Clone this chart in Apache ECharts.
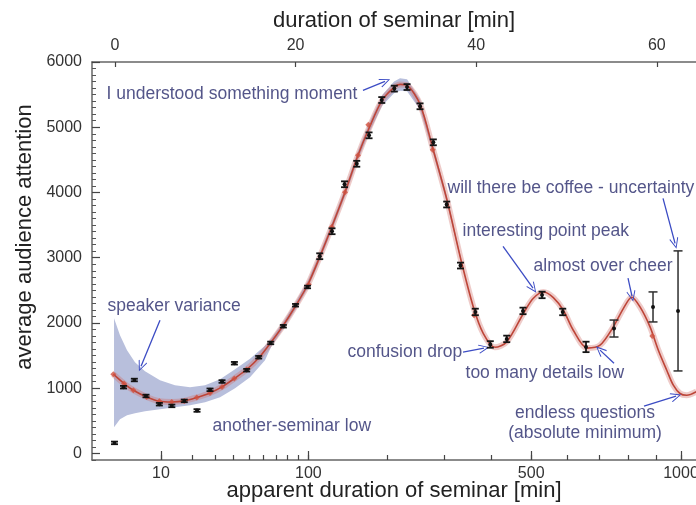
<!DOCTYPE html>
<html>
<head>
<meta charset="utf-8">
<script src="https://cdn.jsdelivr.net/npm/echarts@6/dist/echarts.min.js"></script>
<style>
  html, body { margin: 0; padding: 0; background: #fff; }
  #chart { width: 696px; height: 505px; }
</style>
</head>
<body>
<div id="chart"></div>
<script>
// real seminar time (top axis, linear, minutes)
const topTicks = [0, 20, 40, 60];

// apparent duration (bottom axis) and where each tick sits in real minutes
const apparentTicks = [10, 20, 30, 40, 50, 60, 70, 80, 90, 100, 200, 300, 400, 500, 600, 700, 800, 900, 1000];
const apparentTickPos = [5.09, 8.55, 11.05, 13.08, 14.89, 16.45, 17.83, 19.11, 20.33, 21.41, 30.12, 36.47, 41.69, 46.09, 50.06, 53.63, 56.88, 59.91, 62.68];
const apparentLabels = [10, 100, 500, 1000];

const yMajor = [0, 1000, 2000, 3000, 4000, 5000, 6000];

// measured attention with error bars
const pointT = [-0.06, 0.94, 2.14, 3.43, 4.91, 6.29, 7.67, 9.08, 10.52, 11.85, 13.22, 14.58, 15.91, 17.24, 18.64, 19.99, 21.32, 22.67, 24.03, 25.42, 26.77, 28.13, 29.54, 30.93, 32.34, 33.78, 35.25, 36.73, 38.26, 39.9, 41.56, 43.38, 45.18, 47.29, 49.58, 52.16, 55.26, 59.58, 62.35];
const pointV = [162, 1016, 1126, 881, 755, 729, 806, 659, 976, 1103, 1383, 1276, 1475, 1694, 1950, 2272, 2552, 3023, 3406, 4126, 4440, 4876, 5417, 5592, 5616, 5321, 4769, 3816, 2880, 2169, 1671, 1756, 2185, 2430, 2169, 1633, 1915, 2246, 2185];
const pointErr = [20, 20, 20, 20, 20, 20, 20, 20, 20, 20, 20, 20, 20, 20, 20, 20, 20, 45, 45, 45, 45, 45, 45, 45, 45, 45, 45, 45, 45, 50, 50, 50, 50, 50, 50, 80, 130, 230, 920];

// fitted curve
const fitT = [-0.19, 1.0, 2.03, 3.51, 4.91, 6.28, 7.67, 9.05, 10.52, 11.85, 13.21, 14.58, 15.98, 17.28, 18.64, 20.04, 21.37, 22.7, 24.03, 25.47, 26.91, 28.13, 29.57, 30.9, 31.56, 32.34, 33.78, 35.22, 36.77, 38.32, 39.68, 40.79, 42.08, 43.38, 45.22, 46.3, 47.43, 48.54, 49.65, 50.75, 52.3, 53.71, 55.18, 56.29, 57.22, 58.14, 59.25, 60.17, 61.1, 61.83, 62.57, 63.31, 64.4];
const fitV = [1215, 1072, 970, 867, 801, 790, 806, 858, 928, 1020, 1149, 1287, 1475, 1705, 1966, 2272, 2594, 3023, 3483, 4003, 4570, 4984, 5412, 5611, 5657, 5642, 5350, 4662, 3881, 2962, 2246, 1838, 1628, 1710, 2145, 2375, 2476, 2390, 2195, 1889, 1615, 1659, 1940, 2221, 2395, 2246, 1940, 1583, 1276, 1046, 919, 893, 950];

// red markers visible on the fit
const fitMarkT = [-0.19, 1.0, 2.03, 3.51, 4.91, 6.28, 7.67, 9.05, 10.52, 11.85, 13.21, 14.58, 21.46, 24.0, 25.47, 26.91, 28.05, 35.18, 39.76, 59.5];
const fitMarkV = [1215, 1072, 970, 867, 801, 790, 806, 858, 928, 1020, 1149, 1287, 2590, 3473, 4003, 4570, 5040, 4657, 2119, 1800];

// confidence band
const bandT = [-0.11, 0.55, 1.33, 2.21, 3.32, 4.98, 6.64, 8.31, 9.97, 11.63, 13.29, 14.95, 16.61, 17.28, 18.64, 20.04, 21.37, 22.7, 24.03, 25.47, 26.91, 28.13, 29.57, 30.9, 31.56, 32.34, 33.78, 35.22, 36.77, 38.32];
const bandHigh = [2074, 1813, 1584, 1400, 1261, 1123, 1047, 1016, 1047, 1138, 1290, 1450, 1650, 1760, 2020, 2330, 2655, 3085, 3545, 4065, 4640, 5060, 5490, 5700, 5750, 5735, 5430, 4725, 3930, 2995];
const bandLow = [403, 526, 587, 617, 648, 679, 709, 740, 786, 863, 1000, 1170, 1430, 1630, 1910, 2215, 2535, 2960, 3420, 3940, 4500, 4910, 5330, 5520, 5560, 5550, 5270, 4600, 3830, 2930];

// annotations
const noteText = ['I understood something moment', 'will there be coffee - uncertainty', 'interesting point peak', 'almost over cheer', 'speaker variance', 'confusion drop', 'too many details low', 'another-seminar low'];
const noteT = [-1.0, 36.77, 38.43, 46.29, -0.89, 25.69, 38.76, 10.74];
const noteV = [5505, 4065, 3406, 2870, 2257, 1552, 1232, 418];
const centerNote = 'endless questions\n(absolute minimum)';
const centerNoteAt = [52.05, 464];

const arrowFrom = [[27.46, 5566], [60.69, 3911], [42.97, 3176], [56.81, 2686], [4.98, 2042], [38.54, 1552], [55.26, 1383], [58.58, 725]];
const arrowTo = [[29.9, 5704], [62.02, 3221], [46.29, 2533], [57.25, 2410], [2.88, 1337], [40.86, 1614], [53.71, 1584], [62.13, 878]];

const font = 'Liberation Sans, Arial, sans-serif';
const noteColor = '#282b6c';
const arrowColor = '#3c4cc4';
const arrowHead = 'path://M0,0 L6,11 L5,11.8 L0,2.4 L-5,11.8 L-6,11 Z';

const tMin = -2.55, tMax = 64.34;
const labelPos = apparentLabels.map(a => apparentTickPos[apparentTicks.indexOf(a)]);

function renderBand(params, api) {
  if (params.dataIndex !== 0) return null;
  const upper = bandT.map((t, i) => api.coord([t, bandHigh[i]]));
  const lower = bandT.map((t, i) => api.coord([t, bandLow[i]])).reverse();
  return {
    type: 'polygon',
    shape: { points: upper.concat(lower) },
    style: { fill: '#b8bfdc', stroke: null }
  };
}

function renderErrorBar(params, api) {
  const t = api.value(0), v = api.value(1), e = api.value(2);
  const c = api.coord([t, v]);
  const hi = api.coord([t, v + e]);
  const lo = api.coord([t, v - e]);
  const big = e > 100;
  const w = big ? 4.5 : 3.5;
  const style = { stroke: big ? '#2e2e2e' : '#151515', lineWidth: big ? 1.5 : 1.8 };
  return {
    type: 'group',
    children: [
      { type: 'line', shape: { x1: c[0], y1: hi[1], x2: c[0], y2: lo[1] }, style },
      { type: 'line', shape: { x1: c[0] - w, y1: hi[1], x2: c[0] + w, y2: hi[1] }, style },
      { type: 'line', shape: { x1: c[0] - w, y1: lo[1], x2: c[0] + w, y2: lo[1] }, style },
      { type: 'circle', shape: { cx: c[0], cy: c[1], r: 2 }, style: { fill: '#111' } }
    ]
  };
}

const chart = echarts.init(document.getElementById('chart'), null, { renderer: 'canvas' });

chart.setOption({
  animation: false,
  backgroundColor: '#fff',
  textStyle: { fontFamily: font },
  grid: { left: 92, right: 0, top: 62, bottom: 45, containLabel: false, outerBoundsMode: 'none' },
  xAxis: [
    {
      type: 'value', position: 'top', min: tMin, max: tMax,
      name: 'duration of seminar [min]', nameLocation: 'middle', nameGap: 30,
      nameTextStyle: { fontSize: 22, color: '#222', fontFamily: font },
      axisLine: { onZero: false, lineStyle: { color: '#666', width: 1.5 } },
      axisTick: { inside: true, length: 5, customValues: topTicks, lineStyle: { color: '#444', width: 1.2 } },
      axisLabel: { customValues: topTicks, fontSize: 16, color: '#333', margin: 8 },
      splitLine: { show: false }
    },
    {
      type: 'value', position: 'bottom', min: tMin, max: tMax,
      name: 'apparent duration of seminar [min]', nameLocation: 'middle', nameGap: 20,
      nameMoveOverlap: false,
      nameTextStyle: { fontSize: 22, color: '#222', fontFamily: font, verticalAlign: 'top' },
      axisLine: { onZero: false, lineStyle: { color: '#666', width: 1.5 } },
      axisTick: { inside: true, length: 5, customValues: apparentTickPos, lineStyle: { color: '#444', width: 1.2 } },
      axisLabel: {
        customValues: labelPos, fontSize: 16, color: '#333', margin: 6,
        formatter: v => String(apparentTicks[apparentTickPos.indexOf(v)])
      },
      splitLine: { show: false }
    },
    {
      type: 'value', position: 'bottom', min: tMin, max: tMax,
      axisLine: { show: false, onZero: false },
      axisTick: { inside: true, length: 9, customValues: labelPos, lineStyle: { color: '#444', width: 1.2 } },
      axisLabel: { show: false },
      splitLine: { show: false }
    }
  ],
  yAxis: [
    {
      type: 'value', min: -100, max: 6000, interval: 100,
      name: '{s|}average audience attention', nameLocation: 'middle', nameGap: 52,
      nameTextStyle: { fontSize: 22, color: '#222', fontFamily: font, rich: { s: { width: 48 } } },
      axisLine: { show: true, onZero: false, lineStyle: { color: '#666', width: 1.5 } },
      axisTick: { inside: true, length: 4, lineStyle: { color: '#555', width: 1 } },
      axisLabel: { customValues: yMajor, fontSize: 16, color: '#333', margin: 10, formatter: v => String(v) },
      splitLine: { show: false }
    },
    {
      type: 'value', min: -100, max: 6000, position: 'left',
      axisLine: { show: false, onZero: false },
      axisTick: { inside: true, length: 8, customValues: yMajor, lineStyle: { color: '#444', width: 1.2 } },
      axisLabel: { show: false },
      splitLine: { show: false }
    }
  ],
  series: [
    {
      name: 'band', type: 'custom', renderItem: renderBand, z: 1, silent: true,
      data: bandT.map((t, i) => [t, bandLow[i], bandHigh[i]]),
      encode: { x: 0, y: [1, 2] }
    },
    {
      name: 'fit halo', type: 'line', smooth: 0.3, showSymbol: false, z: 2, silent: true,
      data: fitT.map((t, i) => [t, fitV[i]]),
      lineStyle: { color: 'rgba(205, 105, 100, 0.35)', width: 6 }
    },
    {
      name: 'fit', type: 'line', smooth: 0.3, showSymbol: false, z: 3, silent: true,
      data: fitT.map((t, i) => [t, fitV[i]]),
      lineStyle: { color: '#bd4538', width: 1.6 }
    },
    {
      name: 'fit marks', type: 'scatter', symbol: 'diamond', symbolSize: 6, z: 4, silent: true,
      data: fitMarkT.map((t, i) => [t, fitMarkV[i]]),
      itemStyle: { color: '#d0503f' }
    },
    {
      name: 'measured', type: 'custom', renderItem: renderErrorBar, z: 5, silent: true,
      data: pointT.map((t, i) => [t, pointV[i], pointErr[i]]),
      encode: { x: 0, y: 1 }
    },
    {
      name: 'notes', type: 'scatter', symbolSize: 1, z: 6, silent: true,
      itemStyle: { color: 'rgba(0,0,0,0)' },
      data: noteT.map((t, i) => [t, noteV[i]]),
      label: {
        show: true, position: 'right', distance: 0,
        formatter: p => noteText[p.dataIndex],
        fontSize: 17.5, color: noteColor, fontFamily: font
      },
      markLine: {
        silent: true, animation: false,
        symbol: ['none', arrowHead], symbolSize: [9, 11],
        label: { show: false },
        lineStyle: { color: arrowColor, width: 1.3, type: 'solid' },
        itemStyle: { color: arrowColor },
        data: arrowFrom.map((a, i) => [{ coord: a }, { coord: arrowTo[i] }])
      }
    },
    {
      name: 'center note', type: 'scatter', symbolSize: 1, z: 6, silent: true,
      itemStyle: { color: 'rgba(0,0,0,0)' },
      data: [centerNoteAt],
      label: {
        show: true, position: 'inside', align: 'center', verticalAlign: 'middle',
        formatter: centerNote, lineHeight: 19.5,
        fontSize: 17.5, color: noteColor, fontFamily: font
      }
    }
  ]
});
</script>
</body>
</html>
